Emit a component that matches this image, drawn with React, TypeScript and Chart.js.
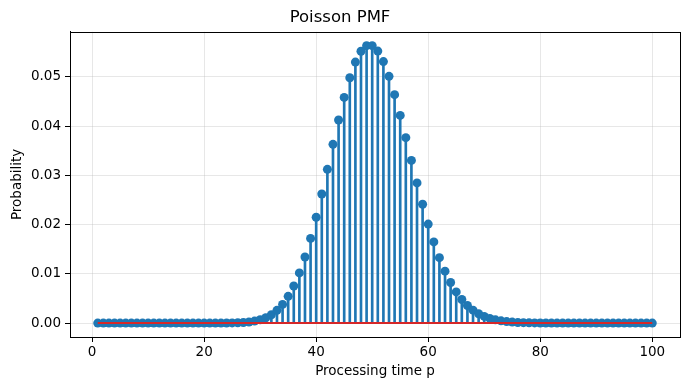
import React, { useEffect, useRef } from "react";
import { Chart, registerables } from "chart.js";

Chart.register(...registerables);

const K_VALUES: number[] = Array.from({ length: 100 }, (_, i) => i + 1);

const PMF: number[] = [
  0, 0, 0, 0, 0, 0, 0, 0, 0, 0,
  0, 0, 0, 0, 0, 0, 0, 0, 0, 0,
  0.000002, 0.000004, 0.000009, 0.000019, 0.000037, 0.000071, 0.000132, 0.000236, 0.000406, 0.000677,
  0.001092, 0.001707, 0.002586, 0.003803, 0.005433, 0.007545, 0.010196, 0.013416, 0.0172, 0.0215,
  0.02622, 0.031214, 0.036295, 0.041244, 0.045827, 0.049812, 0.052991, 0.055199, 0.056325, 0.056325,
  0.055221, 0.053097, 0.050092, 0.046381, 0.042165, 0.037647, 0.033024, 0.028469, 0.024126, 0.020105,
  0.01648, 0.01329, 0.010548, 0.00824, 0.006339, 0.004802, 0.003584, 0.002635, 0.00191, 0.001364,
  0.000961, 0.000667, 0.000457, 0.000309, 0.000206, 0.000135, 0.000088, 0.000056, 0.000036, 0.000022,
  0.000014, 0.000008, 0.000005, 0.000003, 0.000002, 0.000001, 0, 0, 0, 0,
  0, 0, 0, 0, 0, 0, 0, 0, 0, 0,
];

const X_TICKS: number[] = [0, 20, 40, 60, 80, 100];
const Y_TICKS: number[] = [0, 0.01, 0.02, 0.03, 0.04, 0.05];
const X_RANGE: number[] = [-3.95, 104.95];
const Y_RANGE: number[] = [-0.00282, 0.05914];
const BASELINE_X: number[] = [1, 100];

const FONT = "'DejaVu Sans', sans-serif";
const BLUE = "#1f77b4";
const RED = "#d62728";

const frame = {
  id: "frame",
  afterDatasetsDraw(chart: any) {
    const { ctx, chartArea } = chart;
    ctx.save();
    ctx.strokeStyle = "#000";
    ctx.lineWidth = 1;
    ctx.strokeRect(
      Math.round(chartArea.left) + 0.5,
      Math.round(chartArea.top) + 0.5,
      Math.round(chartArea.right - chartArea.left),
      Math.round(chartArea.bottom - chartArea.top)
    );
    ctx.restore();
  },
};

export default function App() {
  const ref = useRef<HTMLCanvasElement | null>(null);

  useEffect(() => {
    document.body.style.margin = "0";
    const canvas = ref.current;
    if (!canvas) return;
    const points = K_VALUES.map((k, i) => ({ x: k, y: PMF[i] }));
    const chart = new Chart(canvas, {
      type: "bar",
      data: {
        datasets: [
          {
            type: "scatter",
            label: "markers",
            data: points,
            backgroundColor: BLUE,
            borderColor: BLUE,
            pointRadius: 4.5,
            pointBorderWidth: 0,
            order: 1,
          } as any,
          {
            type: "line",
            label: "baseline",
            data: BASELINE_X.map((x) => ({ x, y: 0 })),
            borderColor: RED,
            borderWidth: 2,
            pointRadius: 0,
            order: 0,
          } as any,
          {
            type: "bar",
            label: "stems",
            data: points,
            backgroundColor: BLUE,
            borderWidth: 0,
            barThickness: 2,
            grouped: false,
            order: 2,
          } as any,
        ],
      },
      options: {
        animation: false,
        responsive: false,
        devicePixelRatio: 1,
        layout: { padding: { left: 0, right: 10, top: 0, bottom: 0 } },
        plugins: {
          legend: { display: false },
          tooltip: { enabled: false },
          title: {
            display: true,
            text: "Poisson PMF",
            color: "#000",
            font: { family: FONT, size: 16.5, weight: "normal" },
            padding: { top: 8, bottom: 4 },
          },
        },
        scales: {
          x: {
            type: "linear",
            min: X_RANGE[0],
            max: X_RANGE[1],
            offset: false,
            afterBuildTicks: (s: any) => {
              s.ticks = X_TICKS.map((v) => ({ value: v }));
            },
            afterFit: (s: any) => {
              s.height = 53;
            },
            ticks: {
              color: "#000",
              font: { family: FONT, size: 13.5 },
              padding: 2,
              maxRotation: 0,
              autoSkip: false,
              callback: (v: any) => String(v),
            },
            grid: {
              offset: false,
              color: "rgba(176,176,176,0.3)",
              lineWidth: 1,
              tickColor: "#000",
              tickLength: 5,
            },
            border: { display: true, color: "#000", width: 1 },
            title: {
              display: true,
              text: "Processing time p",
              color: "#000",
              font: { family: FONT, size: 13.5 },
              padding: { top: 0, bottom: 10 },
            },
          },
          y: {
            type: "linear",
            min: Y_RANGE[0],
            max: Y_RANGE[1],
            afterBuildTicks: (s: any) => {
              s.ticks = Y_TICKS.map((v) => ({ value: v }));
            },
            afterFit: (s: any) => {
              s.width = 70;
            },
            ticks: {
              color: "#000",
              font: { family: FONT, size: 13.5 },
              padding: 4,
              autoSkip: false,
              callback: (v: any) => Number(v).toFixed(2),
            },
            grid: {
              color: "rgba(176,176,176,0.3)",
              lineWidth: 1,
              tickColor: "#000",
              tickLength: 5,
            },
            border: { display: true, color: "#000", width: 1 },
            title: {
              display: true,
              text: "Probability",
              color: "#000",
              font: { family: FONT, size: 13.5 },
              padding: { top: 9, bottom: 0 },
            },
          },
        },
      },
      plugins: [frame],
    });
    return () => chart.destroy();
  }, []);

  return (
    <div style={{ width: 690, height: 390, background: "#fff" }}>
      <canvas ref={ref} width={690} height={390} style={{ display: "block" }} />
    </div>
  );
}
